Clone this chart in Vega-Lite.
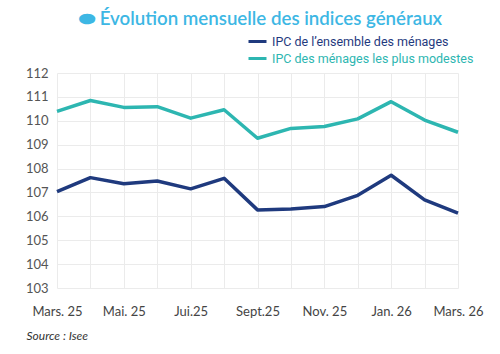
{
  "$schema": "https://vega.github.io/schema/vega-lite/v6.json",
  "width": 401,
  "height": 215,
  "autosize": "none",
  "padding": {"left": 57, "top": 73, "right": 42, "bottom": 66},
  "background": "white",
  "title": {
    "text": "⬬ Évolution mensuelle des indices généraux",
    "anchor": "start",
    "frame": "group",
    "dx": 22,
    "offset": 2,
    "font": "Lato",
    "fontSize": 18.7,
    "fontWeight": 600,
    "color": "#3DB7E4"
  },
  "data": {
    "values": [
      {"mois": "Mars. 25", "serie": "IPC de l’ensemble des ménages", "valeur": 107.03},
      {"mois": "Avr. 25", "serie": "IPC de l’ensemble des ménages", "valeur": 107.62},
      {"mois": "Mai. 25", "serie": "IPC de l’ensemble des ménages", "valeur": 107.36},
      {"mois": "Juin 25", "serie": "IPC de l’ensemble des ménages", "valeur": 107.48},
      {"mois": "Jui.25", "serie": "IPC de l’ensemble des ménages", "valeur": 107.15},
      {"mois": "Août 25", "serie": "IPC de l’ensemble des ménages", "valeur": 107.59},
      {"mois": "Sept.25", "serie": "IPC de l’ensemble des ménages", "valeur": 106.27},
      {"mois": "Oct. 25", "serie": "IPC de l’ensemble des ménages", "valeur": 106.31},
      {"mois": "Nov. 25", "serie": "IPC de l’ensemble des ménages", "valeur": 106.41},
      {"mois": "Déc. 25", "serie": "IPC de l’ensemble des ménages", "valeur": 106.88},
      {"mois": "Jan. 26", "serie": "IPC de l’ensemble des ménages", "valeur": 107.72},
      {"mois": "Févr. 26", "serie": "IPC de l’ensemble des ménages", "valeur": 106.69},
      {"mois": "Mars. 26", "serie": "IPC de l’ensemble des ménages", "valeur": 106.13},
      {"mois": "Mars. 25", "serie": "IPC des ménages les plus modestes", "valeur": 110.39},
      {"mois": "Avr. 25", "serie": "IPC des ménages les plus modestes", "valeur": 110.85},
      {"mois": "Mai. 25", "serie": "IPC des ménages les plus modestes", "valeur": 110.56},
      {"mois": "Juin 25", "serie": "IPC des ménages les plus modestes", "valeur": 110.59},
      {"mois": "Jui.25", "serie": "IPC des ménages les plus modestes", "valeur": 110.11},
      {"mois": "Août 25", "serie": "IPC des ménages les plus modestes", "valeur": 110.46},
      {"mois": "Sept.25", "serie": "IPC des ménages les plus modestes", "valeur": 109.27},
      {"mois": "Oct. 25", "serie": "IPC des ménages les plus modestes", "valeur": 109.68},
      {"mois": "Nov. 25", "serie": "IPC des ménages les plus modestes", "valeur": 109.76},
      {"mois": "Déc. 25", "serie": "IPC des ménages les plus modestes", "valeur": 110.08},
      {"mois": "Jan. 26", "serie": "IPC des ménages les plus modestes", "valeur": 110.80},
      {"mois": "Févr. 26", "serie": "IPC des ménages les plus modestes", "valeur": 110.03},
      {"mois": "Mars. 26", "serie": "IPC des ménages les plus modestes", "valeur": 109.52}
    ]
  },
  "mark": {"type": "line", "strokeWidth": 3.5, "strokeJoin": "round"},
  "encoding": {
    "x": {
      "field": "mois",
      "type": "ordinal",
      "sort": null,
      "scale": {"type": "point", "padding": 0},
      "axis": {
        "labelAngle": 0,
        "labelExpr": "indexof(['Mars. 25','Mai. 25','Jui.25','Sept.25','Nov. 25','Jan. 26','Mars. 26'], datum.value) >= 0 ? datum.value : ''",
        "labelFont": "Lato",
        "labelFontSize": 13,
        "labelColor": "#444444",
        "labelPadding": 23,
        "labelBaseline": "middle",
        "domain": false,
        "ticks": false,
        "grid": true,
        "gridColor": "#EBEBEB",
        "gridWidth": 1,
        "title": "Source : Isee",
        "titleFont": "Lato",
        "titleFontSize": 12,
        "titleFontStyle": "italic",
        "titleFontWeight": "normal",
        "titleColor": "#333333",
        "titleAnchor": "start",
        "titleAlign": "left",
        "titleBaseline": "middle",
        "titleX": -31,
        "titleY": 47
      }
    },
    "y": {
      "field": "valeur",
      "type": "quantitative",
      "scale": {"domain": [103, 112], "nice": false, "zero": false},
      "axis": {
        "values": [103, 104, 105, 106, 107, 108, 109, 110, 111, 112],
        "labelFont": "Lato",
        "labelFontSize": 13,
        "labelColor": "#555555",
        "labelPadding": 9,
        "domain": false,
        "ticks": false,
        "grid": true,
        "gridColor": "#EBEBEB",
        "title": null
      }
    },
    "color": {
      "field": "serie",
      "type": "nominal",
      "scale": {
        "domain": ["IPC de l’ensemble des ménages", "IPC des ménages les plus modestes"],
        "range": ["#1F3A7E", "#2DB6B1"]
      },
      "legend": {
        "title": null,
        "orient": "none",
        "legendX": 190,
        "legendY": -42,
        "symbolType": "stroke",
        "symbolSize": 324,
        "symbolStrokeWidth": 3,
        "rowPadding": -2,
        "labelOffset": 4,
        "labelLimit": 0,
        "labelFont": "Roboto",
        "labelFontSize": 12.5,
        "labelColor": {"expr": "scale('color', datum.value)"}
      }
    }
  },
  "config": {"view": {"stroke": null}}
}
